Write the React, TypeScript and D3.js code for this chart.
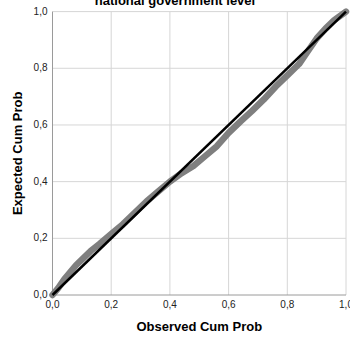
import React, { useEffect, useRef } from 'react';
import * as d3 from 'd3';

// observed vs expected cumulative probability
const observed = [0, 0.02, 0.04, 0.06, 0.08, 0.1, 0.13, 0.16, 0.2, 0.24, 0.28, 0.32, 0.36, 0.4, 0.44, 0.48, 0.52, 0.56, 0.6, 0.64, 0.68, 0.72, 0.76, 0.8, 0.84, 0.87, 0.9, 0.93, 0.96, 0.98, 1.0];
const expected = [0, 0.025, 0.055, 0.08, 0.105, 0.125, 0.155, 0.18, 0.215, 0.25, 0.29, 0.33, 0.365, 0.4, 0.43, 0.455, 0.49, 0.525, 0.572, 0.612, 0.65, 0.69, 0.735, 0.775, 0.815, 0.86, 0.905, 0.94, 0.97, 0.985, 1.0];
const ticks = [0, 0.2, 0.4, 0.6, 0.8, 1.0];
const title = 'national government level';
const xTitle = 'Observed Cum Prob';
const yTitle = 'Expected Cum Prob';

const fmt = (d: number) => d.toFixed(1).replace('.', ',');

const App = () => {
  const svgRef = useRef<SVGSVGElement>(null);

  useEffect(() => {
    const W = 350;
    const H = 338;
    const margin = { top: 11.6, right: 4, bottom: 43, left: 52.5 };
    const width = W - margin.left - margin.right;
    const height = H - margin.top - margin.bottom;

    const root = d3.select(svgRef.current);
    root.selectAll('*').remove();
    root.attr('width', W).attr('height', H);

    const svg = root.append('g').attr('transform', `translate(${margin.left},${margin.top})`);

    const x = d3.scaleLinear().domain([0, 1]).range([0, width]);
    const y = d3.scaleLinear().domain([0, 1]).range([height, 0]);

    // grid
    svg
      .selectAll('.gx')
      .data(ticks.slice(1))
      .enter()
      .append('line')
      .attr('x1', (d) => x(d))
      .attr('x2', (d) => x(d))
      .attr('y1', 0)
      .attr('y2', height)
      .attr('stroke', '#d6d6d6')
      .attr('stroke-width', 1);
    svg
      .selectAll('.gy')
      .data(ticks.slice(1))
      .enter()
      .append('line')
      .attr('x1', 0)
      .attr('x2', width)
      .attr('y1', (d) => y(d))
      .attr('y2', (d) => y(d))
      .attr('stroke', '#d6d6d6')
      .attr('stroke-width', 1);

    // axis lines
    svg.append('line').attr('x1', 0).attr('x2', 0).attr('y1', 0).attr('y2', height).attr('stroke', '#9a9a9a');
    svg.append('line').attr('x1', 0).attr('x2', width).attr('y1', height).attr('y2', height).attr('stroke', '#9a9a9a');

    // tick labels
    svg
      .selectAll('.tx')
      .data(ticks)
      .enter()
      .append('text')
      .attr('x', (d) => x(d))
      .attr('y', height + 13)
      .attr('text-anchor', 'middle')
      .attr('font-size', '10px')
      .attr('fill', '#222')
      .text(fmt);
    svg
      .selectAll('.ty')
      .data(ticks)
      .enter()
      .append('text')
      .attr('x', -5)
      .attr('y', (d) => y(d))
      .attr('dy', '0.3em')
      .attr('text-anchor', 'end')
      .attr('font-size', '10px')
      .attr('fill', '#222')
      .text(fmt);

    // observed points
    const pts = observed.map((o, i) => [o, expected[i]] as [number, number]);
    svg
      .append('path')
      .datum(pts)
      .attr('d', d3.line().x((d) => x(d[0])).y((d) => y(d[1])))
      .attr('fill', 'none')
      .attr('stroke', '#7f7f7f')
      .attr('stroke-width', 6.5)
      .attr('stroke-linejoin', 'round')
      .attr('stroke-linecap', 'round');

    // reference diagonal
    svg
      .append('line')
      .attr('x1', x(0))
      .attr('y1', y(0))
      .attr('x2', x(1))
      .attr('y2', y(1))
      .attr('stroke', '#000')
      .attr('stroke-width', 2.5);

    // titles
    root
      .append('text')
      .attr('x', 175)
      .attr('y', 4.5)
      .attr('text-anchor', 'middle')
      .attr('font-size', '13px')
      .attr('font-weight', 'bold')
      .text(title);
    root
      .append('text')
      .attr('x', margin.left + width / 2)
      .attr('y', 331)
      .attr('text-anchor', 'middle')
      .attr('font-size', '13px')
      .attr('font-weight', 'bold')
      .text(xTitle);
    root
      .append('text')
      .attr('transform', `translate(22,${margin.top + height / 2}) rotate(-90)`)
      .attr('text-anchor', 'middle')
      .attr('font-size', '13px')
      .attr('font-weight', 'bold')
      .text(yTitle);
  }, []);

  return (
    <svg
      ref={svgRef}
      style={{ position: 'absolute', left: 0, top: 0, fontFamily: '"Liberation Sans", Arial, sans-serif' }}
    ></svg>
  );
};

export default App;
